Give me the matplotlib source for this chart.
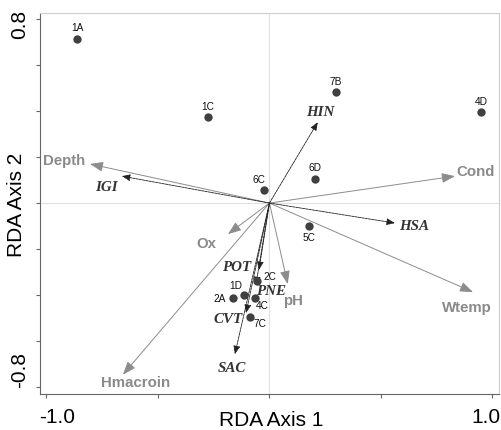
import numpy as np
import matplotlib
matplotlib.use("Agg")
import matplotlib.pyplot as plt
import matplotlib.transforms as mtransforms

# sites
site_names = ["1A", "1C", "7B", "4D", "6D", "6C", "5C", "2C", "1D", "2A", "4C", "7C"]
site_x = [-0.863, -0.276, 0.297, 0.948, 0.204, -0.025, 0.177, -0.056, -0.114, -0.164, -0.065, -0.087]
site_y = [0.713, 0.374, 0.483, 0.396, 0.104, 0.057, -0.100, -0.339, -0.400, -0.413, -0.413, -0.496]
# label offsets in pixels (dx, dy)
site_off = [(0, 12), (0, 11), (0, 11), (0, 11), (0, 12), (-5, 11), (0, -11),
            (13, 5), (-8, 10), (-13, 0), (7, -7), (10, -6)]

# environmental variables
env_names = ["Depth", "Cond", "Ox", "pH", "Wtemp", "Hmacroin"]
env_x = [-0.805, 0.832, -0.186, 0.082, 0.913, -0.657]
env_y = [0.170, 0.117, -0.135, -0.352, -0.387, -0.746]
env_lab_x = [-0.921, 0.926, -0.285, 0.105, 0.886, -0.599]
env_lab_y = [0.187, 0.139, -0.174, -0.422, -0.452, -0.778]

# species
sp_names = ["HIN", "IGI", "HSA", "POT", "PNE", "CVT", "SAC"]
sp_x = [0.217, -0.662, 0.563, -0.047, -0.061, -0.105, -0.155]
sp_y = [0.352, 0.117, -0.087, -0.291, -0.357, -0.478, -0.657]
sp_lab_x = [0.226, -0.729, 0.648, -0.146, 0.007, -0.186, -0.168]
sp_lab_y = [0.400, 0.074, -0.096, -0.274, -0.378, -0.500, -0.713]

sans = "Liberation Sans"
serif = "Liberation Serif"

fig = plt.figure(figsize=(5.01, 4.31), dpi=100)
ax = fig.add_axes([0.0798, 0.0835, 0.916, 0.884])
ax.set_xlim(-1.029, 1.029)
ax.set_ylim(-0.830, 0.826)

ax.axhline(0, color="#e0e0e0", lw=0.8, zorder=0)
ax.axvline(0, color="#e0e0e0", lw=0.8, zorder=0)

for x, y in zip(env_x, env_y):
    ax.annotate("", xy=(x, y), xytext=(0, 0),
                arrowprops=dict(arrowstyle="-|>,head_length=0.8,head_width=0.3",
                                color="#8c8c8c", lw=0.7, shrinkA=0, shrinkB=0))
for lx, ly, n in zip(env_lab_x, env_lab_y, env_names):
    ax.text(lx, ly, n, color="#8a8a8a", fontsize=10.8, fontweight="bold",
            family=sans, ha="center", va="center")

for x, y in zip(sp_x, sp_y):
    ax.annotate("", xy=(x, y), xytext=(0, 0),
                arrowprops=dict(arrowstyle="-|>,head_length=0.5,head_width=0.2",
                                color="#222222", lw=0.6, linestyle=(0, (3, 1)),
                                shrinkA=0, shrinkB=0))
for lx, ly, n in zip(sp_lab_x, sp_lab_y, sp_names):
    ax.text(lx, ly, n, color="#333333", fontsize=10.8, fontweight="bold",
            fontstyle="italic", family=serif, ha="center", va="center")

ax.scatter(site_x, site_y, s=36, color="#404040", zorder=5, linewidths=0)
for x, y, n, (dx, dy) in zip(site_x, site_y, site_names, site_off):
    ax.annotate(n, (x, y), xytext=(dx, dy), textcoords="offset pixels",
                fontsize=7.3, family=sans, ha="center", va="center", color="#111111")

ax.set_xticks([-1.0, -0.5, 0, 0.5, 1.0])
ax.set_xticklabels(["-1.0", "", "", "", "1.0"], family=sans)
ax.set_yticks([-0.8, -0.6, -0.4, -0.2, 0, 0.2, 0.4, 0.6, 0.8])
ax.set_yticklabels(["-0.8", "", "", "", "", "", "", "", "0.8"], rotation=90,
                   va="center", family=sans)
ax.tick_params(labelsize=15, length=3, color="#666666", pad=6)
ax.tick_params(axis="y", pad=5)

xl = ax.get_xticklabels()
xl[0].set_transform(xl[0].get_transform() +
                    mtransforms.ScaledTranslation(0.11, 0, fig.dpi_scale_trans))
xl[-1].set_transform(xl[-1].get_transform() +
                     mtransforms.ScaledTranslation(-0.06, 0, fig.dpi_scale_trans))
yl = ax.get_yticklabels()
yl[0].set_va("bottom")
yl[-1].set_transform(yl[-1].get_transform() +
                     mtransforms.ScaledTranslation(0, -0.04, fig.dpi_scale_trans))

for s in ["left", "bottom"]:
    ax.spines[s].set_color("#666666")
for s in ["top", "right"]:
    ax.spines[s].set_color("#cccccc")

ax.set_xlabel("RDA Axis 1", fontsize=15, family=sans)
ax.xaxis.set_label_coords(0.504, -0.066)
ax.xaxis.label.set_va("center")
ax.set_ylabel("RDA Axis 2", fontsize=15, family=sans)
ax.yaxis.set_label_coords(-0.052, 0.499)
ax.yaxis.label.set_va("center")

fig.savefig("out.png", dpi=100)
